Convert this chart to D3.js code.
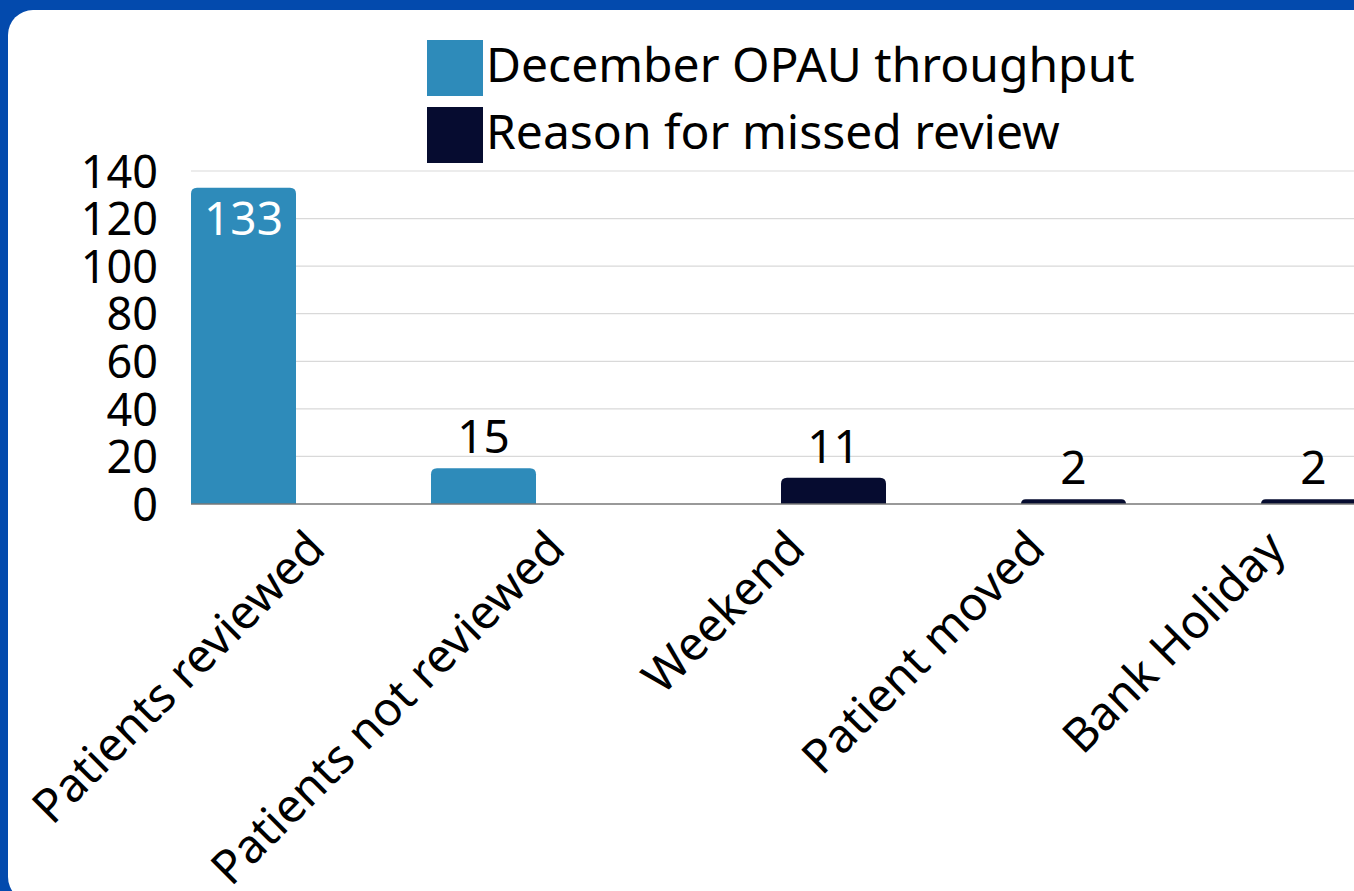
<!DOCTYPE html>
<html><head><meta charset="utf-8">
<script src="https://cdn.jsdelivr.net/npm/d3@7"></script>
<style>html,body{margin:0;padding:0;background:#034aad;overflow:hidden}</style>
</head><body>
<svg id="c" width="1354" height="891"></svg>
<script>
const categories = ["Patients reviewed","Patients not reviewed","Weekend","Patient moved","Bank Holiday"];
const seriesNames = ["December OPAU throughput","Reason for missed review"];
const seriesThroughput = [133, 15, null, null, null];
const seriesReasons = [null, null, 11, 2, 2];
const yTicks = [0,20,40,60,80,100,120,140];
const colors = ["#2e8bba","#060c30"];

const svg = d3.select("#c");
const FONT = "'Noto Sans', sans-serif";
svg.append("rect").attr("width",1354).attr("height",891).attr("fill","#034aad");
svg.append("rect").attr("x",8).attr("y",10).attr("width",1400).attr("height",892).attr("rx",25).attr("fill","#fff");

const y = d3.scaleLinear().domain([0,140]).range([504,171]);
const x0 = d3.scaleBand().domain(categories).range([191,1366]).paddingInner(25/240).paddingOuter(0);
const x1 = d3.scaleBand().domain(seriesNames).range([0,x0.bandwidth()]).paddingInner(5/110).paddingOuter(0);

// gridlines
svg.append("g").selectAll("line").data(yTicks.filter(d=>d>0)).join("line")
  .attr("x1",191).attr("x2",1354).attr("y1",d=>y(d)).attr("y2",d=>y(d))
  .attr("stroke","#d9d9d9").attr("stroke-width",1.2);

// y axis labels
const yAxis = d3.axisLeft(y).tickValues(yTicks).tickSize(0).tickPadding(0);
const yg = svg.append("g").attr("transform","translate(158,0)").call(yAxis);
yg.select(".domain").remove();
yg.selectAll("text").attr("font-family",FONT).attr("font-size",45).attr("fill","#000").attr("dy","0.36em");

const rows = [];
categories.forEach((c,i)=>{
  [seriesThroughput, seriesReasons].forEach((s,j)=>{
    if (s[i]!=null) rows.push({cat:c, series:seriesNames[j], v:s[i], j});
  });
});

function topRounded(x,yT,w,h,r){
  r=Math.min(r,h,w/2);
  return `M${x},${yT+h}V${yT+r}Q${x},${yT} ${x+r},${yT}H${x+w-r}Q${x+w},${yT} ${x+w},${yT+r}V${yT+h}Z`;
}
svg.append("g").selectAll("path").data(rows).join("path")
  .attr("d",d=>topRounded(x0(d.cat)+x1(d.series), y(d.v), x1.bandwidth(), y(0)-y(d.v), 6))
  .attr("fill",d=>colors[d.j]);

// baseline
svg.append("line").attr("x1",191).attr("x2",1354).attr("y1",y(0)).attr("y2",y(0)).attr("stroke","#777").attr("stroke-width",1.5);

// data labels
svg.append("g").selectAll("text").data(rows).join("text")
  .attr("x",d=>x0(d.cat)+x1(d.series)+x1.bandwidth()/2)
  .attr("y",d=>d.v>100 ? y(d.v)+47 : y(d.v)-15)
  .attr("text-anchor","middle").attr("font-family",FONT).attr("font-size",46)
  .attr("fill",d=>d.v>100?"#fff":"#000").text(d=>d.v);

// x labels
svg.append("g").selectAll("text").data(categories).join("text")
  .attr("transform",d=>`translate(${x0(d)+x0.bandwidth()/2+29},551) rotate(-45)`)
  .attr("text-anchor","end").attr("font-family",FONT).attr("font-size",47).attr("fill","#000").text(d=>d);

// legend
const lg = svg.append("g");
seriesNames.forEach((s,i)=>{
  lg.append("rect").attr("x",427).attr("y",40+i*67).attr("width",56).attr("height",56).attr("fill",colors[i]);
  lg.append("text").attr("x",486).attr("y",82+i*66.5).attr("font-family",FONT).attr("font-size",48).attr("fill","#000").text(s);
});
</script>
</body></html>
